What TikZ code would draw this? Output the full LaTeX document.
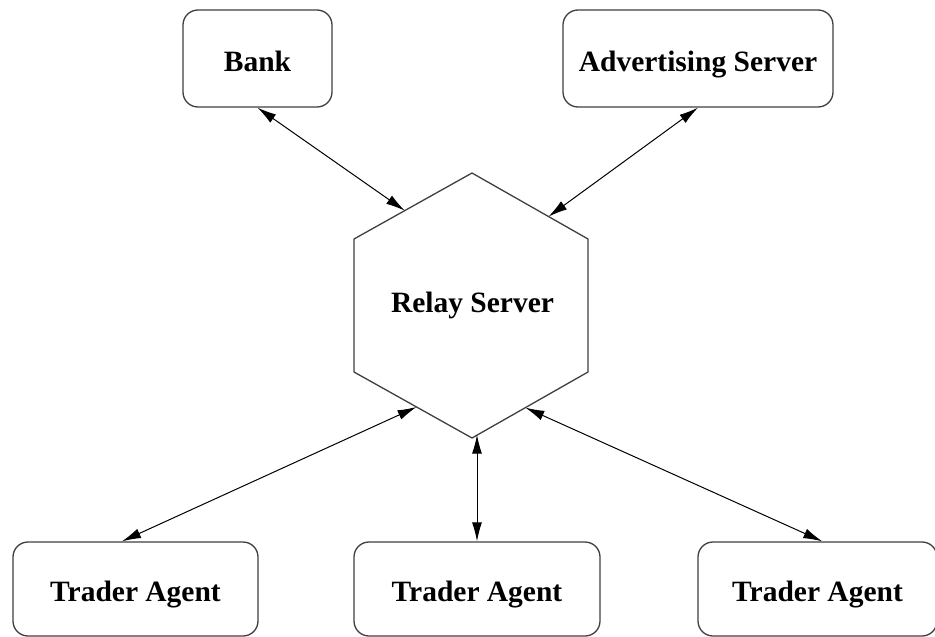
\documentclass[tikz,border=0pt]{standalone}
\usepackage{fontspec}
\setmainfont{Liberation Serif}
\usetikzlibrary{arrows.meta,calc}

\tikzset{
  box/.style={draw=black!75, line width=1.3pt, rounded corners=15pt,
    inner sep=0pt, text height=25pt, text depth=0pt, font=\labelfont},
  hexline/.style={draw=black!75, line width=1.3pt, line join=miter},
  link/.style={draw=black, line width=1pt,
    {Latex[length=19pt,width=10pt]}-{Latex[length=19pt,width=10pt]}},
  caption/.style={inner sep=0pt, text height=25pt, text depth=0pt, font=\labelfont}
}
\newcommand{\labelfont}{\fontsize{29.5}{34}\selectfont\bfseries}

\begin{document}
\begin{tikzpicture}[x=1pt,y=-1pt]
\useasboundingbox[fill=white] (0,0) rectangle (935,637);

% top row
\node[box, minimum width=149pt, minimum height=97pt] (bank) at (257.5,58.5) {Bank};
\node[box, minimum width=270pt, minimum height=97pt] (adv) at (698,58.5) {Advertising Server};

% hexagonal relay server
\coordinate (hT)  at (472,173);
\coordinate (hUR) at (588,239);
\coordinate (hLR) at (588,372);
\coordinate (hB)  at (472,438);
\coordinate (hLL) at (354,372);
\coordinate (hUL) at (354,239);
\draw[hexline] (hT) -- (hUR) -- (hLR) -- (hB) -- (hLL) -- (hUL) -- cycle;
\node[caption] (relay) at (472.5,299.5) {Relay Server};

% bottom row
\node[box, minimum width=245pt, minimum height=94pt] (tl) at (135.5,589) {Trader Agent};
\node[box, minimum width=246pt, minimum height=94pt] (tm) at (477,589) {Trader Agent};
\node[box, minimum width=239pt, minimum height=94pt] (tr) at (817.5,589) {Trader Agent};

% attachment points on the hexagon border
\coordinate (pBank) at ($(hUL)!0.43!(hT)$);
\coordinate (pAdv)  at ($(hT)!0.66!(hUR)$);
\coordinate (pTL)   at ($(hLL)!0.53!(hB)$);
\coordinate (pTM)   at ($(hB)!0.05!(hLR)$);
\coordinate (pTR)   at ($(hB)!0.46!(hLR)$);

% attachment points on the trader boxes
\coordinate (qTL) at ($(tl.north west)!0.445!(tl.north east)$);
\coordinate (qTM) at ($(tm.north west)!0.5!(tm.north east)$);
\coordinate (qTR) at ($(tr.north west)!0.52!(tr.north east)$);

% links
\draw[link] (bank.south) -- (pBank);
\draw[link] (adv.south) -- (pAdv);
\draw[link] (qTL) -- (pTL);
\draw[link] (qTM) -- (qTM |- pTM);
\draw[link] (qTR) -- (pTR);
\end{tikzpicture}
\end{document}
